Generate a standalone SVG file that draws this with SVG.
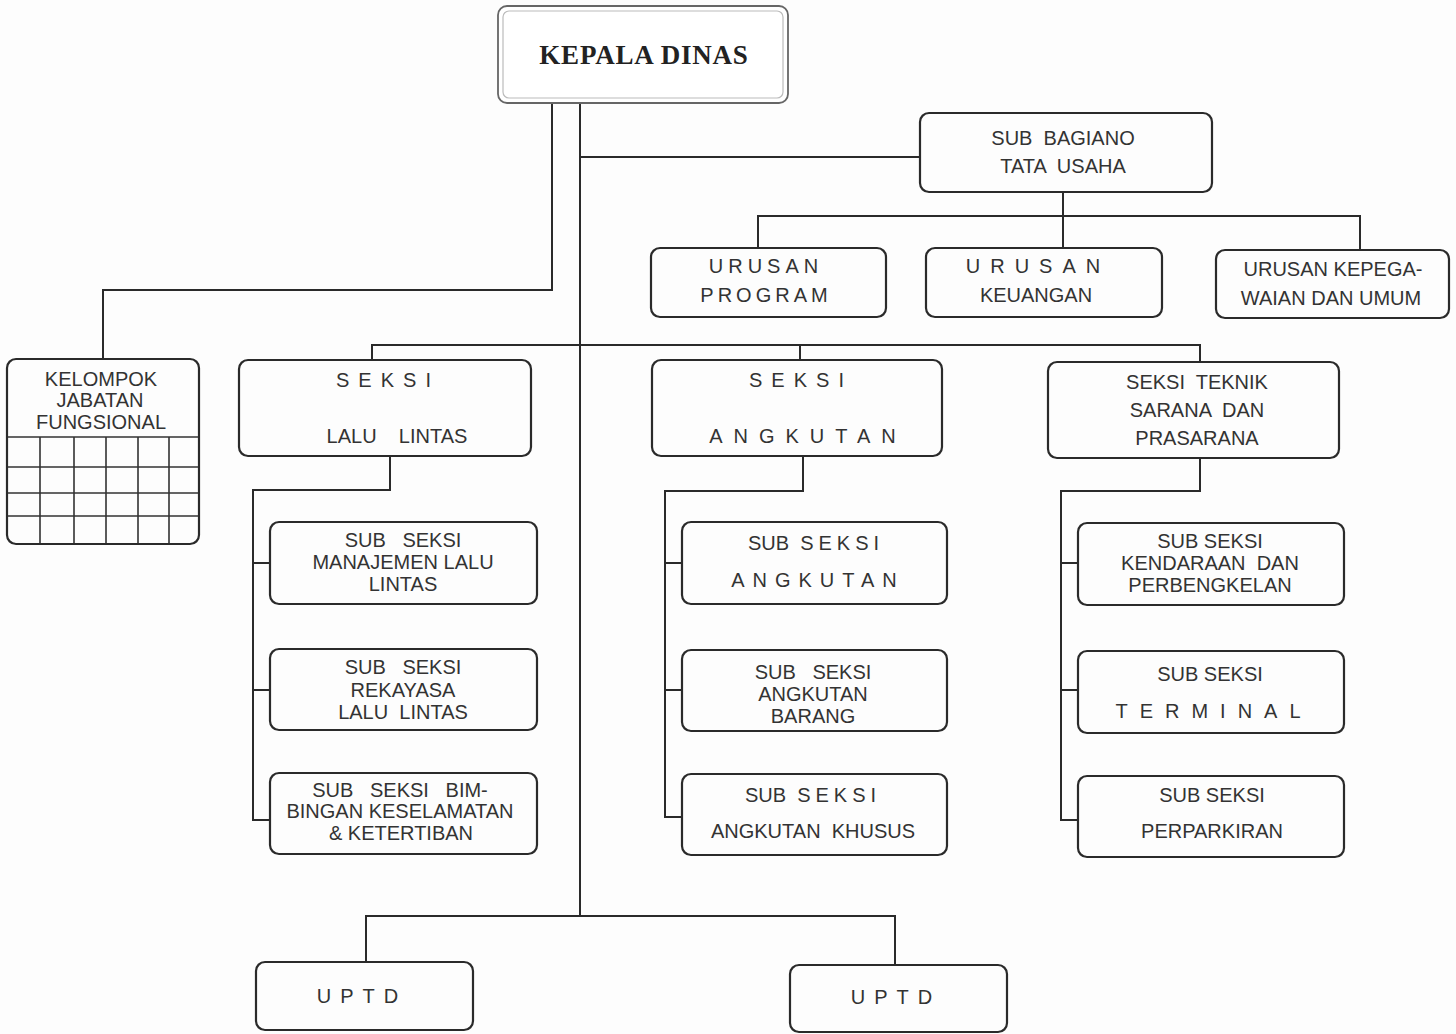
<svg xmlns="http://www.w3.org/2000/svg" width="1456" height="1034" viewBox="0 0 1456 1034">
<style>
.bx{fill:none;stroke:#2a2a2a;stroke-width:2.2}
.ln{fill:none;stroke:#2a2a2a;stroke-width:2}
.gr{fill:none;stroke:#333;stroke-width:1.6}
text{font-family:"Liberation Sans",Arial,sans-serif;font-size:20px;fill:#333;text-anchor:middle;white-space:pre}
.sp{letter-spacing:2px}
.hd{font-family:"Liberation Serif","Times New Roman",serif;font-weight:bold;font-size:27px;letter-spacing:0.8px;fill:#222}
</style>
<rect width="1456" height="1034" fill="#fdfdfd"/>
<g id="connectors">
<path class="ln" d="M552 103V290H103V360"/>
<path class="ln" d="M580 103V916"/>
<path class="ln" d="M580 157H920"/>
<path class="ln" d="M1063 192V216M758 248V216H1360V250M1063 216V248"/>
<path class="ln" d="M372 360V345H1200V362M800 345V360"/>
<path class="ln" d="M390 456V490H253V820H270M253 563H270M253 690H270"/>
<path class="ln" d="M803 456V491H665V817H682M665 563H682M665 690H682"/>
<path class="ln" d="M1200 458V491H1061V820H1078M1061 563H1078M1061 690H1078"/>
<path class="ln" d="M366 962V916H895V965"/>
</g>
<g id="kepala-dinas">
<rect x="498" y="6" width="290" height="97" rx="9" fill="#fff" stroke="#666" stroke-width="1.8"/>
<rect x="503" y="11" width="280" height="87" rx="6" fill="none" stroke="#bbb" stroke-width="1.2"/>
<text class="hd" x="644" y="64">KEPALA DINAS</text>
</g>
<g id="sub-bagian-tata-usaha">
<rect class="bx" x="920" y="113" width="292" height="79" rx="9"/>
<text x="1063" y="145">SUB  BAGIANO</text>
<text x="1063" y="173">TATA  USAHA</text>
</g>
<g id="urusan-program">
<rect class="bx" x="651" y="248" width="235" height="69" rx="9"/>
<text class="sp" x="766" y="273" style="letter-spacing:5px">URUSAN</text>
<text class="sp" x="766" y="302" style="letter-spacing:4px">PROGRAM</text>
</g>
<g id="urusan-keuangan">
<rect class="bx" x="926" y="248" width="236" height="69" rx="9"/>
<text x="1038" y="273" style="letter-spacing:10px">URUSAN</text>
<text x="1036" y="302">KEUANGAN</text>
</g>
<g id="urusan-kepegawaian">
<rect class="bx" x="1216" y="250" width="233" height="68" rx="9"/>
<text x="1333" y="276">URUSAN KEPEGA-</text>
<text x="1331" y="305">WAIAN DAN UMUM</text>
</g>
<g id="kelompok-jabatan-fungsional">
<rect class="bx" x="7" y="359" width="192" height="185" rx="9"/>
<text x="101" y="386">KELOMPOK</text>
<text x="100" y="407">JABATAN</text>
<text x="101" y="429">FUNGSIONAL</text>
<path class="gr" d="M8 437H198M8 467H198M8 493H198M8 516H198M40 437V543M74 437V543M106 437V543M138 437V543M169 437V543"/>
</g>
<g id="seksi-lalu-lintas">
<rect class="bx" x="239" y="360" width="292" height="96" rx="9"/>
<text x="388" y="387" style="letter-spacing:9px">SEKSI</text>
<text x="397" y="443">LALU    LINTAS</text>
</g>
<g id="seksi-angkutan">
<rect class="bx" x="652" y="360" width="290" height="96" rx="9"/>
<text x="801" y="387" style="letter-spacing:9px">SEKSI</text>
<text x="808" y="443" style="letter-spacing:11px">ANGKUTAN</text>
</g>
<g id="seksi-teknik">
<rect class="bx" x="1048" y="362" width="291" height="96" rx="9"/>
<text x="1197" y="389">SEKSI  TEKNIK</text>
<text x="1197" y="417">SARANA  DAN</text>
<text x="1197" y="445">PRASARANA</text>
</g>
<g id="sub-seksi-manajemen">
<rect class="bx" x="270" y="522" width="267" height="82" rx="9"/>
<text x="403" y="547">SUB   SEKSI</text>
<text x="403" y="569">MANAJEMEN LALU</text>
<text x="403" y="591">LINTAS</text>
</g>
<g id="sub-seksi-rekayasa">
<rect class="bx" x="270" y="649" width="267" height="81" rx="9"/>
<text x="403" y="674">SUB   SEKSI</text>
<text x="403" y="697">REKAYASA</text>
<text x="403" y="719">LALU  LINTAS</text>
</g>
<g id="sub-seksi-bimbingan">
<rect class="bx" x="270" y="773" width="267" height="81" rx="9"/>
<text x="400" y="797">SUB   SEKSI   BIM-</text>
<text x="400" y="818">BINGAN KESELAMATAN</text>
<text x="401" y="840">&amp; KETERTIBAN</text>
</g>
<g id="sub-seksi-angkutan">
<rect class="bx" x="682" y="522" width="265" height="82" rx="9"/>
<text x="816" y="550">SUB  <tspan style="letter-spacing:5px">SEKSI</tspan></text>
<text x="818" y="587" style="letter-spacing:8px">ANGKUTAN</text>
</g>
<g id="sub-seksi-angkutan-barang">
<rect class="bx" x="682" y="650" width="265" height="81" rx="9"/>
<text x="813" y="679">SUB   SEKSI</text>
<text x="813" y="701">ANGKUTAN</text>
<text x="813" y="723">BARANG</text>
</g>
<g id="sub-seksi-angkutan-khusus">
<rect class="bx" x="682" y="774" width="265" height="81" rx="9"/>
<text x="813" y="802">SUB  <tspan style="letter-spacing:5px">SEKSI</tspan></text>
<text x="813" y="838">ANGKUTAN  KHUSUS</text>
</g>
<g id="sub-seksi-kendaraan">
<rect class="bx" x="1078" y="523" width="266" height="82" rx="9"/>
<text x="1210" y="548">SUB SEKSI</text>
<text x="1210" y="570">KENDARAAN  DAN</text>
<text x="1210" y="592">PERBENGKELAN</text>
</g>
<g id="sub-seksi-terminal">
<rect class="bx" x="1078" y="651" width="266" height="82" rx="9"/>
<text x="1210" y="681">SUB SEKSI</text>
<text x="1214" y="718" style="letter-spacing:12px">TERMINAL</text>
</g>
<g id="sub-seksi-perparkiran">
<rect class="bx" x="1078" y="776" width="266" height="81" rx="9"/>
<text x="1212" y="802">SUB SEKSI</text>
<text x="1212" y="838">PERPARKIRAN</text>
</g>
<g id="uptd-1">
<rect class="bx" x="256" y="962" width="217" height="68" rx="9"/>
<text x="362" y="1003" style="letter-spacing:9px">UPTD</text>
</g>
<g id="uptd-2">
<rect class="bx" x="790" y="965" width="217" height="67" rx="9"/>
<text x="896" y="1004" style="letter-spacing:9px">UPTD</text>
</g>
</svg>
